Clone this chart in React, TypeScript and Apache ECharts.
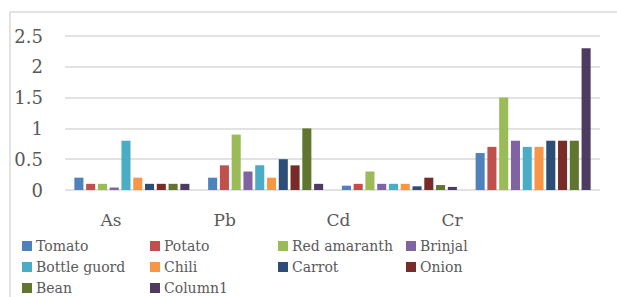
import React, { useEffect, useRef } from "react";
import * as echarts from "echarts";

const categories = ["As", "Pb", "Cd", "Cr"];
const seriesNames = ["Tomato", "Potato", "Red amaranth", "Brinjal", "Bottle guord", "Chili", "Carrot", "Onion", "Bean", "Column1"];
const tomato = [0.2, 0.2, 0.07, 0.6];
const potato = [0.1, 0.4, 0.1, 0.7];
const redAmaranth = [0.1, 0.9, 0.3, 1.5];
const brinjal = [0.04, 0.3, 0.1, 0.8];
const bottleGuord = [0.8, 0.4, 0.1, 0.7];
const chili = [0.2, 0.2, 0.1, 0.7];
const carrot = [0.1, 0.5, 0.06, 0.8];
const onion = [0.1, 0.4, 0.2, 0.8];
const bean = [0.1, 1.0, 0.08, 0.8];
const column1 = [0.1, 0.1, 0.05, 2.3];
const seriesValues = [tomato, potato, redAmaranth, brinjal, bottleGuord, chili, carrot, onion, bean, column1];
const colors = ["#4F81BD", "#C0504D", "#9BBB59", "#8064A2", "#4BACC6", "#F79646", "#2C4D75", "#772C2A", "#5F7530", "#4D3B62"];

const FONT = "DejaVu Serif";
const TEXT = "#595959";

export default function App() {
  const ref = useRef<HTMLDivElement>(null);
  useEffect(() => {
    document.body.style.margin = "0";
    const chart = echarts.init(ref.current!, null, { renderer: "svg" });
    chart.setOption({
      animation: false,
      backgroundColor: "#ffffff",
      graphic: [
        {
          type: "rect",
          shape: { x: 10, y: 12, width: 700, height: 400 },
          style: { fill: "none", stroke: "#D9D9D9", lineWidth: 1.5 },
          silent: true,
        },
      ],
      grid: [
        { left: 65, right: 17, top: 36, bottom: 107 },
        { left: 54, width: 455, top: 36, bottom: 107 },
      ],
      xAxis: [
        {
          type: "category",
          gridIndex: 0,
          data: categories,
          axisLine: { show: false },
          axisTick: { show: false },
          axisLabel: { show: false },
        },
        {
          type: "category",
          gridIndex: 1,
          data: categories,
          axisLine: { show: false },
          axisTick: { show: false },
          axisLabel: { fontFamily: FONT, fontSize: 17, color: TEXT, margin: 21 },
        },
      ],
      yAxis: [
        {
          type: "value",
          gridIndex: 0,
          min: 0,
          max: 2.5,
          interval: 0.5,
          axisLine: { show: false },
          axisTick: { show: false },
          splitLine: { lineStyle: { color: "#D9D9D9", width: 1.5 } },
          axisLabel: { fontFamily: FONT, fontSize: 18, color: TEXT, margin: 22 },
        },
        {
          type: "value",
          gridIndex: 1,
          show: false,
          min: 0,
          max: 2.5,
        },
      ],
      legend: {
        left: 22,
        top: 235.5,
        width: 530,
        padding: 0,
        itemGap: 0,
        itemWidth: 10,
        itemHeight: 10,
        icon: "rect",
        data: seriesNames,
        textStyle: { fontFamily: FONT, fontSize: 14, color: TEXT, width: 114, lineHeight: 21, padding: [0, 0, 0, -1] },
      },
      series: seriesNames.map((name, i) => ({
        name,
        type: "bar",
        xAxisIndex: 0,
        yAxisIndex: 0,
        data: seriesValues[i],
        barGap: "30%",
        barCategoryGap: "14%",
        itemStyle: { color: colors[i] },
      })),
    });
    return () => chart.dispose();
  }, []);
  return <div ref={ref} style={{ width: 617, height: 297 }} />;
}
